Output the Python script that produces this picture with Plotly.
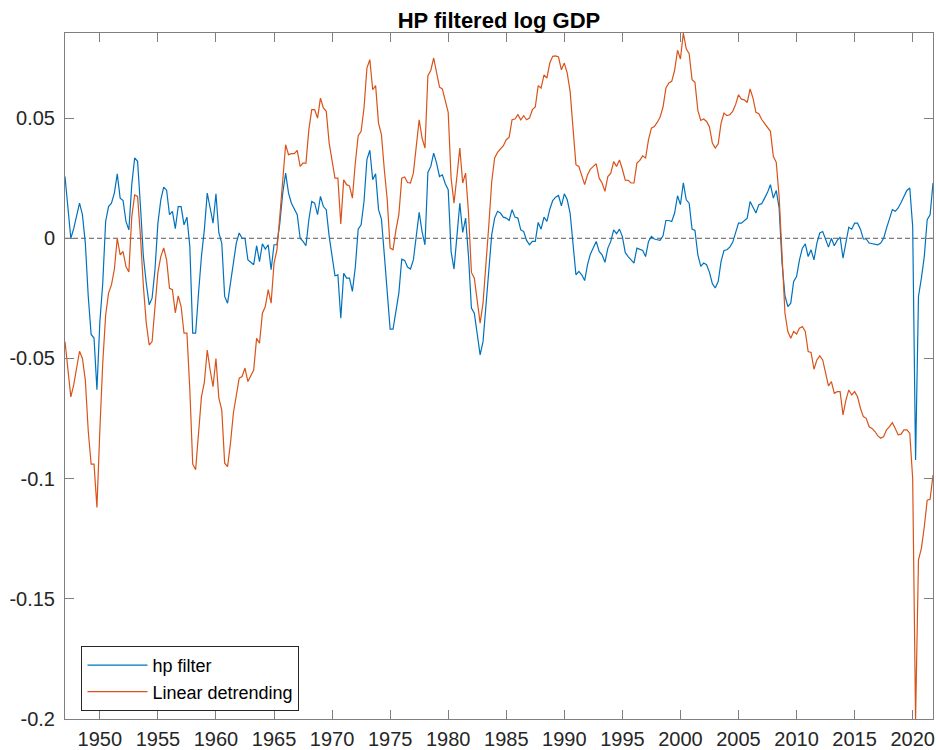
import plotly.graph_objects as go

# Quarterly observations, 1947Q1 .. 2021Q4
start_year = 1947
n_quarters = 300
quarters = [start_year + k / 4 for k in range(n_quarters)]

hp_filter = [
    # 1947-1956
    0.0257, 0.013, 0.0, 0.004, 0.009, 0.0146, 0.0098, -0.002, -0.024, -0.040,
    -0.0415, -0.063, -0.035, -0.0187, 0.007, 0.0132, 0.0146, 0.0188, 0.0268, 0.0167,
    0.0157, 0.007, 0.0035, 0.0223, 0.0334, 0.032, 0.0132, -0.0076, -0.0187, -0.0277,
    -0.0249, -0.013, 0.0063, 0.016, 0.0213, 0.020, 0.0098, 0.0112, 0.004, 0.0132,
    # 1957-1966
    0.0132, 0.0056, 0.0088, -0.0034, -0.0395, -0.0395, -0.0228, -0.0076, 0.0035, 0.0188,
    0.0126, 0.0063, 0.0185, 0.0022, -0.002, -0.0242, -0.027, -0.0187, -0.009, -0.002,
    0.0022, 0.0, 0.0, -0.009, -0.010, -0.011, -0.0031, -0.0097, -0.0023, -0.0045,
    -0.0027, -0.0131, -0.0027, -0.0027, 0.0063, 0.0188, 0.0271, 0.0188, 0.0146, 0.0119,
    # 1967-1976
    0.0098, 0.0, -0.0013, -0.0031, 0.0077, 0.0153, 0.0146, 0.0098, 0.0174, 0.0132,
    0.0119, 0.0008, -0.0076, -0.0156, -0.0152, -0.0333, -0.0146, -0.0166, -0.0166, -0.0221,
    -0.012, 0.0038, 0.0056, 0.0153, 0.0327, 0.0366, 0.0244, 0.0268, 0.0119, 0.008,
    -0.0069, -0.0207, -0.0378, -0.0378, -0.0298, -0.0228, -0.0087, -0.0092, -0.012, -0.0128,
    # 1977-1986
    -0.009, 0.0008, 0.0108, 0.0028, -0.0027, 0.0274, 0.0299, 0.0354, 0.0313, 0.0257,
    0.0264, 0.0227, 0.0202, -0.0055, -0.0128, 0.0008, 0.0146, 0.0024, 0.0084, -0.0076,
    -0.029, -0.0312, -0.0398, -0.0485, -0.043, -0.027, -0.012, 0.0015, 0.0084, 0.0112,
    0.0105, 0.0088, 0.0084, 0.0074, 0.0119, 0.0088, 0.0084, 0.0035, 0.0028, -0.0009,
    # 1987-1996
    -0.0027, -0.0013, -0.0013, 0.0066, 0.0038, 0.0088, 0.007, 0.0121, 0.0157, 0.0171,
    0.0178, 0.0135, 0.0185, 0.016, 0.0105, -0.0034, -0.0152, -0.0138, -0.0152, -0.0176,
    -0.011, -0.0065, -0.0041, -0.0013, -0.0055, -0.0069, -0.01, -0.0041, -0.0013, 0.0035,
    0.0019, 0.0038, 0.0007, -0.006, -0.0076, -0.0089, -0.0103, -0.0041, -0.0045, -0.0051,
    # 1997-2006
    -0.0076, -0.0013, 0.0008, -0.0003, -0.0006, -0.0009, 0.001, 0.0074, 0.0074, 0.007,
    0.0105, 0.0177, 0.014, 0.0231, 0.016, 0.0146, 0.0038, 0.0033, -0.0069, -0.0117,
    -0.0103, -0.011, -0.0142, -0.0189, -0.0207, -0.018, -0.0096, -0.0051, -0.0048, -0.0037,
    -0.0017, 0.0019, 0.0063, 0.0063, 0.0073, 0.0084, 0.0153, 0.013, 0.0105, 0.014,
    # 2007-2016
    0.0144, 0.0167, 0.0191, 0.0223, 0.0167, 0.0199, 0.0126, -0.0103, -0.0239, -0.0284,
    -0.027, -0.018, -0.0159, -0.009, -0.0041, -0.0023, -0.0076, -0.0048, -0.009, -0.002,
    0.0022, 0.0028, -0.0006, -0.0037, 0.0, -0.0031, -0.0009, 0.0005, -0.0083, -0.002,
    0.0046, 0.0038, 0.0063, 0.0063, 0.0038, -0.0003, -0.0003, -0.002, -0.0023, -0.0024,
    # 2017-2021
    -0.0027, -0.002, 0.0, 0.0042, 0.0077, 0.0119, 0.0112, 0.0126, 0.0149, 0.0174,
    0.0199, 0.0209, 0.0049, -0.0922, -0.0242, -0.0166, -0.0076, 0.0077, 0.0098, 0.023,
]

linear_detrending = [
    # 1947-1956
    -0.043, -0.0534, -0.066, -0.061, -0.0548, -0.047, -0.05, -0.059, -0.080, -0.094,
    -0.094, -0.112, -0.080, -0.052, -0.032, -0.0228, -0.0194, -0.013, 0.0, -0.0069,
    -0.0055, -0.0118, -0.014, 0.009, 0.018, 0.0174, 0.0008, -0.020, -0.0353, -0.0444,
    -0.043, -0.0298, -0.0142, -0.0076, -0.004, -0.009, -0.0208, -0.0214, -0.031, -0.024,
    # 1957-1966
    -0.0284, -0.0395, -0.0395, -0.063, -0.094, -0.0963, -0.080, -0.066, -0.06, -0.0465,
    -0.0548, -0.0617, -0.05, -0.0665, -0.0714, -0.0936, -0.095, -0.0853, -0.0728, -0.0659,
    -0.0582, -0.0575, -0.054, -0.0596, -0.0575, -0.0548, -0.0416, -0.0437, -0.0312, -0.0284,
    -0.0214, -0.027, -0.0104, -0.0048, 0.0091, 0.0257, 0.0389, 0.0348, 0.0352, 0.0352,
    # 1967-1976
    0.0366, 0.0299, 0.0313, 0.0313, 0.0452, 0.0535, 0.0535, 0.05, 0.0583, 0.0542,
    0.0528, 0.0396, 0.0313, 0.025, 0.025, 0.006, 0.0243, 0.0223, 0.0218, 0.0167,
    0.0313, 0.0427, 0.0445, 0.0542, 0.0708, 0.0743, 0.0618, 0.0635, 0.0479, 0.0431,
    0.0285, 0.016, -0.0041, -0.0048, 0.0035, 0.0098, 0.025, 0.0255, 0.0232, 0.023,
    # 1977-1986
    0.0271, 0.0382, 0.0493, 0.0417, 0.0375, 0.0676, 0.0698, 0.075, 0.0694, 0.0629,
    0.0621, 0.0576, 0.0524, 0.025, 0.0146, 0.0257, 0.0375, 0.023, 0.0271, 0.0105,
    -0.0142, -0.0166, -0.0263, -0.0353, -0.027, -0.012, 0.0055, 0.0236, 0.0334, 0.0357,
    0.0371, 0.0385, 0.041, 0.0421, 0.0493, 0.0496, 0.0514, 0.0493, 0.051, 0.0493,
    # 1987-1996
    0.05, 0.0535, 0.0546, 0.0635, 0.0625, 0.068, 0.0666, 0.0729, 0.0757, 0.0759,
    0.0754, 0.0701, 0.0729, 0.0687, 0.0611, 0.0452, 0.0306, 0.0299, 0.0264, 0.0223,
    0.0264, 0.0288, 0.0299, 0.031, 0.025, 0.023, 0.0195, 0.0257, 0.0271, 0.0319,
    0.0299, 0.0326, 0.0287, 0.0242, 0.0241, 0.023, 0.023, 0.0313, 0.0324, 0.0343,
    # 1997-2006
    0.0334, 0.041, 0.0458, 0.0465, 0.0482, 0.0504, 0.0546, 0.0625, 0.0646, 0.0653,
    0.0699, 0.0782, 0.0746, 0.0854, 0.0788, 0.0768, 0.066, 0.0649, 0.0532, 0.049,
    0.0496, 0.0486, 0.0463, 0.0396, 0.0375, 0.0393, 0.0479, 0.0521, 0.051, 0.0514,
    0.0528, 0.0556, 0.0597, 0.0579, 0.0576, 0.0565, 0.0621, 0.0583, 0.0524, 0.0518,
    # 2007-2016
    0.0494, 0.0478, 0.0465, 0.0445, 0.0341, 0.0316, 0.0174, -0.0103, -0.0312, -0.0388,
    -0.0416, -0.0388, -0.0398, -0.0374, -0.0367, -0.0388, -0.0471, -0.0475, -0.0545, -0.0506,
    -0.0489, -0.0506, -0.0558, -0.0614, -0.0596, -0.0645, -0.0638, -0.0638, -0.0735, -0.0673,
    -0.0631, -0.0652, -0.0638, -0.0659, -0.0707, -0.0742, -0.0749, -0.0784, -0.0791, -0.0804,
    # 2017-2021
    -0.0822, -0.0832, -0.0825, -0.0797, -0.0784, -0.0767, -0.0791, -0.0818, -0.0815, -0.0797,
    -0.0797, -0.0811, -0.100, -0.2, -0.1338, -0.129, -0.120, -0.109, -0.1086, -0.0985,
]

x_tick_vals = [1950, 1955, 1960, 1965, 1970, 1975, 1980, 1985, 1990, 1995, 2000, 2005, 2010, 2015, 2020]
x_tick_text = [str(v) for v in x_tick_vals]
y_tick_vals = [-0.2, -0.15, -0.1, -0.05, 0, 0.05]
y_tick_text = ["-0.2", "-0.15", "-0.1", "-0.05", "0", "0.05"]

x_range = [1947, 2021.75]
y_range = [-0.2, 0.0854]

FONT = "Liberation Sans, Arial, Helvetica, sans-serif"
AXIS_COLOR = "#7f7f7f"
TEXT_COLOR = "#262626"

FIG_W, FIG_H = 936, 750

fig = go.Figure()
fig.add_trace(go.Scatter(
    x=quarters, y=hp_filter, mode="lines", name="hp filter",
    line=dict(color="#0072BD", width=1.2),
))
fig.add_trace(go.Scatter(
    x=quarters, y=linear_detrending, mode="lines", name="Linear detrending",
    line=dict(color="#D95319", width=1.2),
))
fig.add_hline(y=0, line=dict(color="#595959", width=1, dash="5px,3px"), layer="below")

axis_common = dict(
    showgrid=False, zeroline=False, showline=True, linecolor=AXIS_COLOR, linewidth=1,
    mirror="ticks", ticks="inside", ticklen=9, tickwidth=1, tickcolor=AXIS_COLOR,
    tickfont=dict(family=FONT, size=20, color=TEXT_COLOR), automargin=False,
)

fig.update_layout(
    width=FIG_W, height=FIG_H,
    template="none",
    paper_bgcolor="white", plot_bgcolor="white",
    margin=dict(l=65, r=3, t=33, b=31, pad=0),
    title=dict(text="<b>HP filtered log GDP</b>", x=0.5, xref="paper", xanchor="center",
               y=1 - 20.5 / FIG_H, yref="container", yanchor="middle",
               font=dict(family=FONT, size=22, color="black")),
    xaxis=dict(range=x_range, tickvals=x_tick_vals, ticktext=x_tick_text,
               ticklabelstandoff=2, **axis_common),
    yaxis=dict(range=y_range, tickvals=y_tick_vals, ticktext=y_tick_text,
               ticklabelstandoff=5, **axis_common),
    showlegend=True,
    legend=dict(x=0.019, y=0.1065, xanchor="left", yanchor="top",
                bgcolor="white", bordercolor="#262626", borderwidth=1,
                font=dict(family=FONT, size=18, color="black"),
                itemwidth=60, tracegroupgap=0),
)

# Remove the default 8px page margin so the 936x750 figure fills the window exactly.
fig.write_html("out.html", config={"displayModeBar": False},
               post_script="document.body.style.margin='0px';")
